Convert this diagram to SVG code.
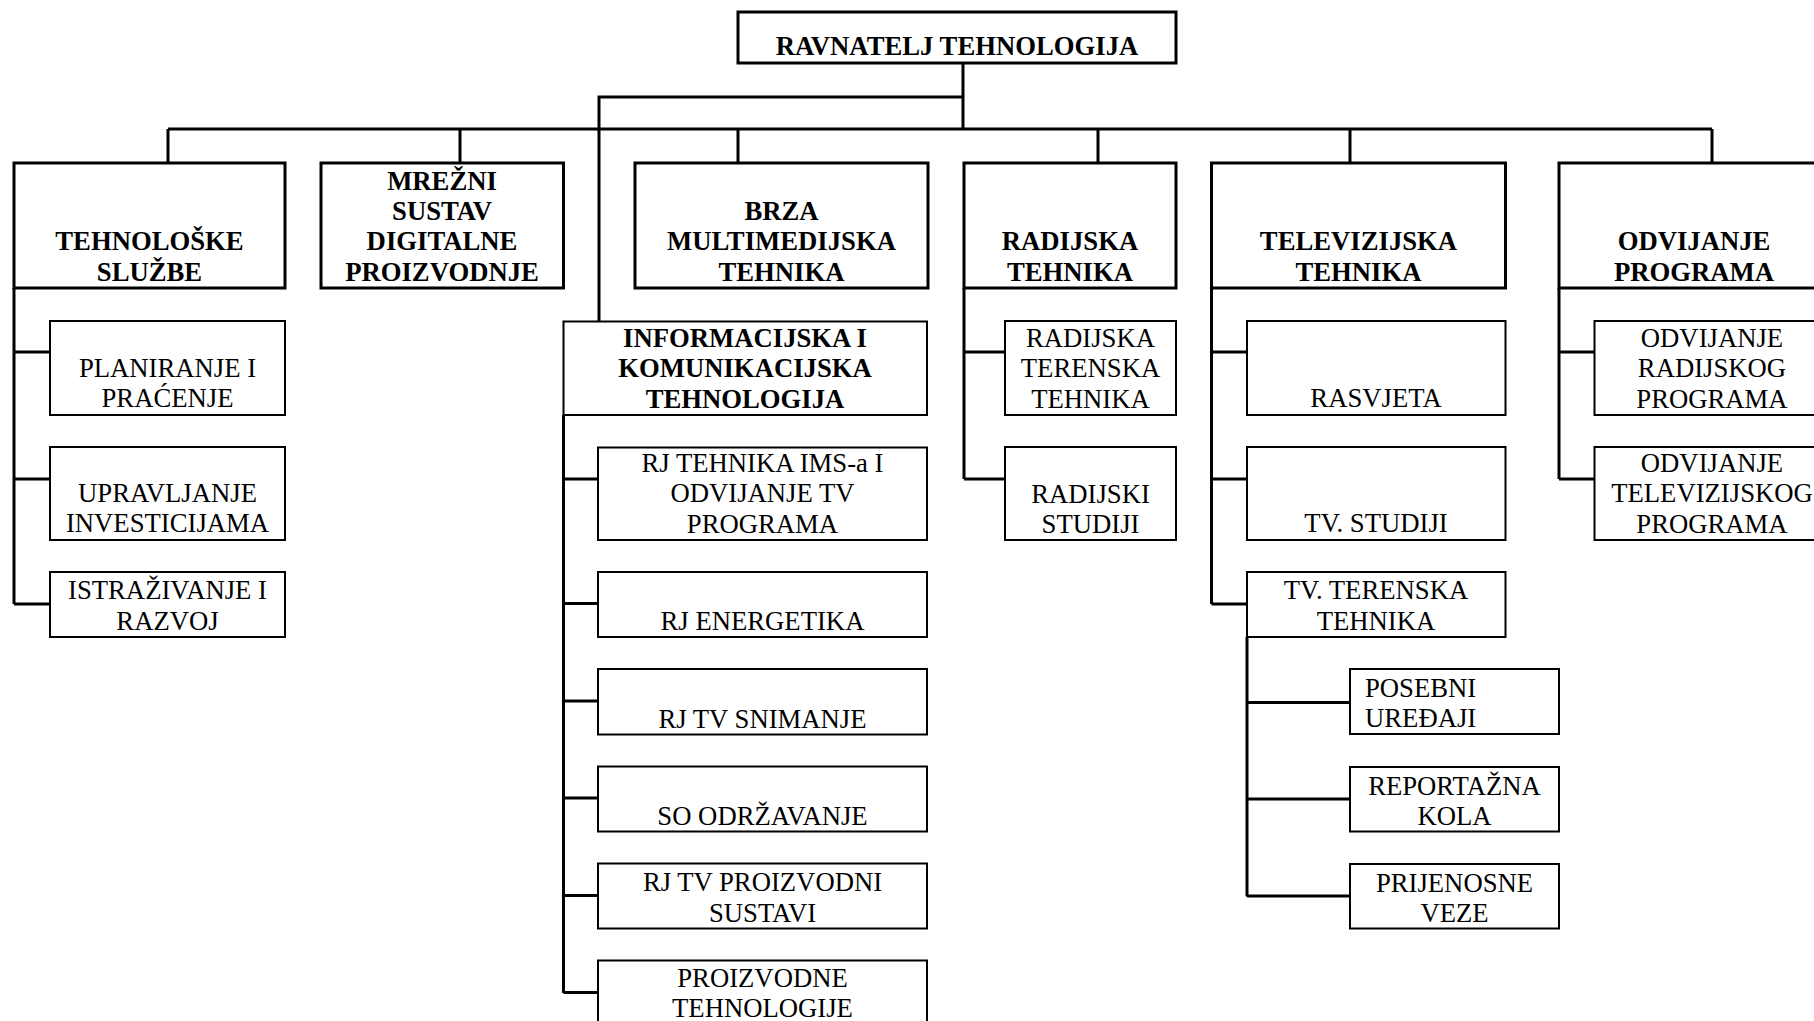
<svg xmlns="http://www.w3.org/2000/svg" width="1814" height="1021" viewBox="0 0 1814 1021">
<style>
.bg{fill:#fff}
.b1{fill:#fff;stroke:#000;stroke-width:3}
.b2{fill:#fff;stroke:#000;stroke-width:2}
.c{fill:none;stroke:#000;stroke-width:3}
text{font-family:"Liberation Serif","Times New Roman",serif;font-size:26.7px;fill:#000;text-anchor:middle}
.bold{font-weight:bold}
.l{text-anchor:start}
</style>
<rect class="bg" x="0" y="0" width="1814" height="1021"/>
<g id="connectors">
<path class="c" d="M963 63V129M963 97H599V321"/>
<path class="c" d="M168 129H1712"/>
<path class="c" d="M168 129V163M460 129V163M738 129V163M1098 129V163M1350 129V163M1712 129V163"/>
<path class="c" d="M14 288V604M14 352H50M14 479H50M14 604H50"/>
<path class="c" d="M563.5 415V993M563.5 479H598M563.5 603.5H598M563.5 701H598M563.5 798H598M563.5 895.5H598M563.5 992.5H598"/>
<path class="c" d="M964 288V479M964 352H1005M964 479H1005"/>
<path class="c" d="M1211.5 288V604M1211.5 352H1247M1211.5 479H1247M1211.5 604H1247"/>
<path class="c" d="M1247 637V896.5M1247 702.5H1350M1247 799H1350M1247 896H1350"/>
<path class="c" d="M1559 288V479M1559 352H1594.5M1559 479H1594.5"/>
</g>
<g id="n-ravnatelj"><rect class="b1" x="738" y="12" width="438" height="51"/><text class="bold" x="957" y="55">RAVNATELJ TEHNOLOGIJA</text></g>
<g id="n-tehnoloske"><rect class="b1" x="14" y="163" width="271" height="125"/><text class="bold" x="149.5" y="250">TEHNOLOŠKE</text><text class="bold" x="149.5" y="280.5">SLUŽBE</text></g>
<g id="n-mrezni"><rect class="b1" x="321" y="163" width="242.5" height="125"/><text class="bold" x="442" y="189.5">MREŽNI</text><text class="bold" x="442" y="220">SUSTAV</text><text class="bold" x="442" y="250">DIGITALNE</text><text class="bold" x="442" y="280.5">PROIZVODNJE</text></g>
<g id="n-brza"><rect class="b1" x="635" y="163" width="293" height="125"/><text class="bold" x="781.5" y="220">BRZA</text><text class="bold" x="781.5" y="250">MULTIMEDIJSKA</text><text class="bold" x="781.5" y="280.5">TEHNIKA</text></g>
<g id="n-radijska"><rect class="b1" x="964" y="163" width="212" height="125"/><text class="bold" x="1070" y="250">RADIJSKA</text><text class="bold" x="1070" y="280.5">TEHNIKA</text></g>
<g id="n-televizijska"><rect class="b1" x="1211.5" y="163" width="294" height="125"/><text class="bold" x="1358.5" y="250">TELEVIZIJSKA</text><text class="bold" x="1358.5" y="280.5">TEHNIKA</text></g>
<g id="n-odvijanje"><rect class="b1" x="1559" y="163" width="271" height="125"/><text class="bold" x="1694" y="250">ODVIJANJE</text><text class="bold" x="1694" y="280.5">PROGRAMA</text></g>
<g id="n-planiranje"><rect class="b2" x="50" y="321" width="235" height="94"/><text x="167.5" y="377">PLANIRANJE I</text><text x="167.5" y="407">PRAĆENJE</text></g>
<g id="n-upravljanje"><rect class="b2" x="50" y="447" width="235" height="93"/><text x="167.5" y="502">UPRAVLJANJE</text><text x="167.5" y="532">INVESTICIJAMA</text></g>
<g id="n-istrazivanje"><rect class="b2" x="50" y="572" width="235" height="65"/><text x="167.5" y="598.5">ISTRAŽIVANJE I</text><text x="167.5" y="629.5">RAZVOJ</text></g>
<g id="n-informacijska"><rect class="b2" x="563.5" y="321.5" width="363.5" height="93.5"/><text class="bold" x="745" y="346.5">INFORMACIJSKA I</text><text class="bold" x="745" y="377">KOMUNIKACIJSKA</text><text class="bold" x="745" y="407.5">TEHNOLOGIJA</text></g>
<g id="n-rj-tehnika"><rect class="b2" x="598" y="447.5" width="329" height="92.5"/><text x="762.5" y="471.5">RJ TEHNIKA IMS-a I</text><text x="762.5" y="502">ODVIJANJE TV</text><text x="762.5" y="532.5">PROGRAMA</text></g>
<g id="n-rj-energetika"><rect class="b2" x="598" y="572" width="329" height="65"/><text x="762.5" y="630">RJ ENERGETIKA</text></g>
<g id="n-rj-snimanje"><rect class="b2" x="598" y="669" width="329" height="65.5"/><text x="762.5" y="727.5">RJ TV SNIMANJE</text></g>
<g id="n-so-odrzavanje"><rect class="b2" x="598" y="766.5" width="329" height="65"/><text x="762.5" y="824.5">SO ODRŽAVANJE</text></g>
<g id="n-rj-proizvodni"><rect class="b2" x="598" y="863.5" width="329" height="65"/><text x="762.5" y="890.5">RJ TV PROIZVODNI</text><text x="762.5" y="921.5">SUSTAVI</text></g>
<g id="n-proizvodne"><rect class="b2" x="598" y="960.5" width="329" height="90"/><text x="762.5" y="987">PROIZVODNE</text><text x="762.5" y="1017">TEHNOLOGIJE</text></g>
<g id="n-radijska-terenska"><rect class="b2" x="1005" y="321" width="171" height="94"/><text x="1090.5" y="346.5">RADIJSKA</text><text x="1090.5" y="377">TERENSKA</text><text x="1090.5" y="407.5">TEHNIKA</text></g>
<g id="n-radijski-studiji"><rect class="b2" x="1005" y="447" width="171" height="93"/><text x="1090.5" y="502.5">RADIJSKI</text><text x="1090.5" y="533">STUDIJI</text></g>
<g id="n-rasvjeta"><rect class="b2" x="1247" y="321" width="258.5" height="94"/><text x="1376" y="407">RASVJETA</text></g>
<g id="n-tv-studiji"><rect class="b2" x="1247" y="447" width="258.5" height="93"/><text x="1376" y="532">TV. STUDIJI</text></g>
<g id="n-tv-terenska"><rect class="b2" x="1247" y="572" width="258.5" height="65"/><text x="1376" y="599">TV. TERENSKA</text><text x="1376" y="630">TEHNIKA</text></g>
<g id="n-posebni"><rect class="b2" x="1350" y="669" width="209" height="65"/><text class="l" x="1365" y="697">POSEBNI</text><text class="l" x="1365" y="727">UREĐAJI</text></g>
<g id="n-reportazna"><rect class="b2" x="1350" y="767" width="209" height="64.5"/><text x="1454.5" y="794.5">REPORTAŽNA</text><text x="1454.5" y="825">KOLA</text></g>
<g id="n-prijenosne"><rect class="b2" x="1350" y="864" width="209" height="64.5"/><text x="1454.5" y="891.5">PRIJENOSNE</text><text x="1454.5" y="922">VEZE</text></g>
<g id="n-odv-radijskog"><rect class="b2" x="1594.5" y="321" width="235" height="94"/><text x="1712" y="346.5">ODVIJANJE</text><text x="1712" y="377">RADIJSKOG</text><text x="1712" y="407.5">PROGRAMA</text></g>
<g id="n-odv-televizijskog"><rect class="b2" x="1594.5" y="447" width="235" height="93"/><text x="1712" y="471.5">ODVIJANJE</text><text x="1712" y="502">TELEVIZIJSKOG</text><text x="1712" y="532.5">PROGRAMA</text></g>
</svg>
